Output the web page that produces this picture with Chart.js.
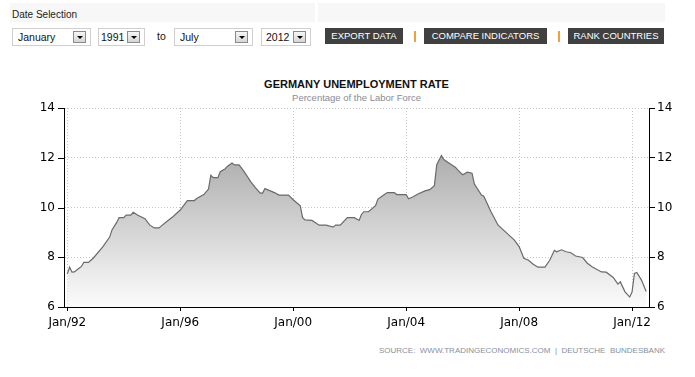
<!DOCTYPE html>
<html>
<head>
<meta charset="utf-8">
<script src="https://cdn.jsdelivr.net/npm/chart.js@4.4.1/dist/chart.umd.min.js"></script>
<style>
    body { margin: 0; width: 695px; height: 377px; overflow: hidden; position: relative; background: #fff; font-family: "Liberation Sans", Arial, sans-serif; }
    .bar { position: absolute; top: 3px; height: 19px; background: #f7f7f7; }
    .lbl { position: absolute; left: 12px; top: 9px; font-size: 10px; line-height: 12px; color: #222; }
    .sel { position: absolute; top: 28px; height: 18px; box-sizing: border-box; border: 1px solid #cfcfcf; background: #fff; font-size: 10.5px; line-height: 16px; padding-left: 5px; color: #111; }
    .sel .dd { position: absolute; right: 4px; top: 2px; width: 13px; height: 12px; box-sizing: border-box; border: 1px solid #8a8a8a; background: linear-gradient(#f6f6f6, #d6d6d6); }
    .sel .dd:after { content: ""; position: absolute; left: 3px; top: 4px; border-left: 3px solid transparent; border-right: 3px solid transparent; border-top: 3px solid #000; }
    .to { position: absolute; left: 157px; top: 28px; font-size: 10.5px; line-height: 17px; color: #111; }
    .btn { position: absolute; top: 28px; height: 16px; background: #404040; color: #fff; font-size: 9.5px; line-height: 16px; text-align: center; }
    .sep { position: absolute; top: 31px; width: 2px; height: 11px; background: #f0a23a; }
    .title { position: absolute; left: 64px; width: 585px; top: 77px; text-align: center; font-weight: bold; font-size: 11px; line-height: 14px; color: #111; }
    .sub { position: absolute; left: 64px; width: 585px; top: 92px; text-align: center; font-size: 9.5px; line-height: 11px; color: #8a8a95; }
    .src { position: absolute; right: 30px; top: 346px; font-size: 8px; line-height: 10px; color: #8890a0; white-space: pre; letter-spacing: 0px; }
    #wrap { position: absolute; left: 0; top: 60px; width: 695px; height: 280px; }
</style>
</head>
<body>
<div class="bar" style="left:10px;width:305px"></div>
<div class="bar" style="left:318px;width:347px"></div>
<div class="lbl">Date Selection</div>
<div class="sel" style="left:12px;width:79px">January<span class="dd"></span></div>
<div class="sel" style="left:98px;width:47px;padding-left:2px">1991<span class="dd"></span></div>
<div class="to">to</div>
<div class="sel" style="left:174px;width:79px">July<span class="dd"></span></div>
<div class="sel" style="left:261px;width:50px;padding-left:4px">2012<span class="dd"></span></div>
<div class="btn" style="left:325px;width:78px">EXPORT DATA</div>
<div class="sep" style="left:414px"></div>
<div class="btn" style="left:424px;width:123px">COMPARE INDICATORS</div>
<div class="sep" style="left:558px"></div>
<div class="btn" style="left:568px;width:96px">RANK COUNTRIES</div>
<div class="title">GERMANY UNEMPLOYMENT RATE</div>
<div class="sub">Percentage of the Labor Force</div>
<div id="wrap"><canvas id="myChart"></canvas></div>
<div class="src">SOURCE:  WWW.TRADINGECONOMICS.COM  |  DEUTSCHE  BUNDESBANK</div>
<script>
// months counted from Jan 1992
var months = [0, 1, 2, 3, 5, 6, 7, 9, 11, 15, 18, 19, 21, 22, 24, 25, 27, 28, 30, 33,
    35, 37, 39, 40, 42, 45, 48, 51, 54, 55, 58, 60, 61, 62, 64, 65, 67, 68, 70, 71,
    73, 75, 78, 80, 82, 83, 84, 86, 88, 90, 94, 96, 98, 99, 100, 101, 104, 105, 107, 110,
    113, 114, 116, 119, 122, 124, 125, 126, 128, 131, 132, 134, 136, 139, 140, 144, 145, 147, 149, 152,
    154, 156, 157, 159, 160, 162, 165, 166, 168, 170, 172, 173, 176, 177, 180, 183, 187, 190, 192, 194,
    196, 198, 200, 203, 205, 207, 208, 210, 212, 214, 216, 219, 221, 223, 227, 229, 232, 234, 235, 237,
    239, 240, 241, 242, 244, 246];
// unemployment rate, percent
var rates = [7.33, 7.60, 7.40, 7.41, 7.56, 7.63, 7.79, 7.79, 7.96, 8.41, 8.81, 9.10, 9.40, 9.59, 9.59, 9.69, 9.69, 9.81, 9.69, 9.55,
    9.30, 9.18, 9.18, 9.26, 9.42, 9.64, 9.90, 10.28, 10.28, 10.36, 10.52, 10.74, 11.30, 11.20, 11.20, 11.44, 11.55, 11.65, 11.79, 11.71,
    11.71, 11.46, 11.03, 10.79, 10.58, 10.58, 10.76, 10.68, 10.60, 10.50, 10.50, 10.31, 10.15, 10.07, 9.59, 9.50, 9.48, 9.42, 9.29, 9.29,
    9.21, 9.29, 9.29, 9.59, 9.59, 9.48, 9.72, 9.83, 9.83, 10.07, 10.34, 10.47, 10.60, 10.60, 10.52, 10.52, 10.35, 10.43, 10.54, 10.67,
    10.72, 10.88, 11.72, 12.09, 11.93, 11.80, 11.61, 11.50, 11.32, 11.42, 11.38, 10.94, 10.50, 10.45, 9.84, 9.30, 8.95, 8.69, 8.43, 7.96,
    7.88, 7.72, 7.60, 7.60, 7.88, 8.28, 8.22, 8.30, 8.22, 8.18, 8.05, 7.99, 7.76, 7.62, 7.41, 7.40, 7.19, 6.92, 7.01, 6.61,
    6.40, 6.60, 7.35, 7.39, 7.08, 6.62];

var xTicks = [0, 48, 96, 144, 192, 240];
var xTickLabels = ['Jan/92', 'Jan/96', 'Jan/00', 'Jan/04', 'Jan/08', 'Jan/12'];
var yTicks = [6, 8, 10, 12, 14];

var points = months.map(function(m, i) {
    return { x: m, y: rates[i] };
});

// short outside tick marks on the left and bottom axes (grid lines are dotted)
var tickMarks = {
    id: 'tickMarks',
    afterDraw: function(chart) {
        var c = chart.ctx, area = chart.chartArea;
        c.save();
        c.strokeStyle = '#000';
        c.lineWidth = 1;
        c.beginPath();
        yTicks.forEach(function(v) {
            var py = Math.round(chart.scales.y.getPixelForValue(v)) + 0.5;
            c.moveTo(area.left - 6, py);
            c.lineTo(area.left, py);
        });
        xTicks.forEach(function(v) {
            var px = Math.round(chart.scales.x.getPixelForValue(v)) + 0.5;
            c.moveTo(px, area.bottom);
            c.lineTo(px, area.bottom + 4);
        });
        c.stroke();
        c.restore();
    }
};

var tickFont = { family: 'DejaVu Sans', size: 12 };

new Chart(document.getElementById('myChart'), {
    type: 'line',
    data: {
        datasets: [{
            data: points,
            borderColor: '#6a6a6a',
            borderWidth: 1.2,
            pointRadius: 0,
            tension: 0,
            fill: 'start',
            backgroundColor: function(context) {
                var area = context.chart.chartArea;
                if (!area) return '#ccc';
                var g = context.chart.ctx.createLinearGradient(0, area.top, 0, area.bottom);
                g.addColorStop(0, '#959595');
                g.addColorStop(1, '#fcfcfc');
                return g;
            }
        }]
    },
    options: {
        responsive: true,
        maintainAspectRatio: false,
        animation: false,
        layout: { padding: { top: 48, left: 0, right: 0, bottom: 0 } },
        plugins: {
            legend: { display: false },
            tooltip: { enabled: false }
        },
        scales: {
            x: {
                type: 'linear',
                min: -1.4,
                max: 247.2,
                z: 1,
                afterBuildTicks: function(scale) {
                    scale.ticks = xTicks.map(function(v) { return { value: v }; });
                },
                afterFit: function(scale) { scale.height = 33; },
                grid: { color: '#c4c4c4', drawTicks: false },
                border: { color: '#000', width: 1, dash: [1, 2] },
                ticks: {
                    color: '#000',
                    font: tickFont,
                    padding: 9,
                    maxRotation: 0,
                    autoSkip: false,
                    callback: function(value) {
                        var i = xTicks.indexOf(value);
                        return i >= 0 ? xTickLabels[i] : '';
                    }
                }
            },
            y: {
                position: 'left',
                min: 6,
                max: 14,
                z: 1,
                afterFit: function(scale) { scale.width = 64; },
                grid: { color: '#c4c4c4', drawTicks: false },
                border: { color: '#000', width: 1, dash: [1, 2] },
                ticks: { stepSize: 2, color: '#000', font: tickFont, padding: 9 }
            },
            y2: {
                position: 'right',
                min: 6,
                max: 14,
                afterFit: function(scale) { scale.width = 46; },
                grid: { drawOnChartArea: false, drawTicks: true, tickLength: 6, tickColor: '#000', tickWidth: 1 },
                border: { color: '#000', width: 1 },
                ticks: { stepSize: 2, color: '#000', font: tickFont, padding: 2 }
            }
        }
    },
    plugins: [tickMarks]
});
</script>
</body>
</html>
